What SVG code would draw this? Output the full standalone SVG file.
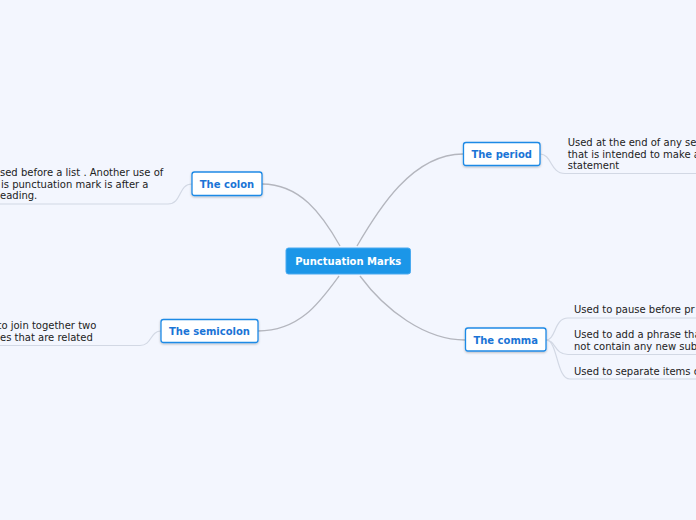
<svg xmlns="http://www.w3.org/2000/svg" width="696" height="520" viewBox="0 0 696 520">
<defs>
<style>
.bg{fill:#f3f6fe}
.main{fill:none;stroke:#b4b6be;stroke-width:1.3}
.sub{fill:none;stroke:#d2d8e4;stroke-width:1.2}
.node rect{fill:#ffffff;stroke:#1f8ae6;stroke-width:1.3}
.node text{font-family:"DejaVu Sans",Verdana,sans-serif;font-size:10px;font-weight:bold;fill:#1a74d6;text-anchor:middle}
.root rect{fill:#1b96e8;stroke:#4aaaf0;stroke-width:1}
.root text{font-family:"DejaVu Sans",Verdana,sans-serif;font-size:10px;font-weight:bold;fill:#ffffff;text-anchor:middle}
.leaf{font-family:"DejaVu Sans",Verdana,sans-serif;font-size:10px;fill:#222222}
</style>
<filter id="sh" x="-10%" y="-20%" width="120%" height="150%">
<feDropShadow dx="0" dy="1" stdDeviation="0.8" flood-color="#000000" flood-opacity="0.25"/>
</filter>
</defs>
<rect class="bg" x="0" y="0" width="696" height="520"/>
<g id="connectors">
<path class="main" d="M340,246 C322,214 300,184 262,184"/>
<path class="main" d="M357,246 C378,210 412,154 463,154"/>
<path class="main" d="M339,276 C320,302 300,331 258,331"/>
<path class="main" d="M360,276 C385,310 425,340 465,340"/>
<path class="sub" d="M192,184 C178,184 182,204 168,204 L0,204"/>
<path class="sub" d="M161,331 C150,331 152,345.5 140,345.5 L0,345.5"/>
<path class="sub" d="M540,154 C552,154 550,173.5 565,173.5 L696,173.5"/>
<path class="sub" d="M546,340 C556,340 554,318 568,318 L696,318"/>
<path class="sub" d="M546,340 C556,340 554,354.5 568,354.5 L696,354.5"/>
<path class="sub" d="M546,340 C558,340 556,379 570,379 L696,379"/>
</g>
<g id="root" class="root">
<rect x="286" y="248" width="124.5" height="26" rx="2.5"/>
<text x="348.3" y="264.5">Punctuation Marks</text>
</g>
<g id="colon" class="node">
<rect x="192" y="172" width="70" height="23.5" rx="2.5" filter="url(#sh)"/>
<text x="227" y="187.5">The colon</text>
</g>
<g id="semicolon" class="node">
<rect x="161" y="319.5" width="97" height="23" rx="2.5" filter="url(#sh)"/>
<text x="209.5" y="334.5">The semicolon</text>
</g>
<g id="period" class="node">
<rect x="463.5" y="142.5" width="76.5" height="23" rx="2.5" filter="url(#sh)"/>
<text x="501.7" y="157.5">The period</text>
</g>
<g id="comma" class="node">
<rect x="465.5" y="328" width="80.5" height="23" rx="2.5" filter="url(#sh)"/>
<text x="505.7" y="343.5">The comma</text>
</g>
<g id="colon-leaf">
<text class="leaf" x="0" y="176">sed before a list . Another use of</text>
<text class="leaf" x="1" y="187.6">is punctuation mark is after a</text>
<text class="leaf" x="0" y="199.2">eading.</text>
</g>
<g id="semicolon-leaf">
<text class="leaf" x="-2.5" y="329">to join together two</text>
<text class="leaf" x="0" y="340.7">es that are related</text>
</g>
<g id="period-leaf">
<text class="leaf" x="567.7" y="146">Used at the end of any se</text>
<text class="leaf" x="567.7" y="157.6">that is intended to make a</text>
<text class="leaf" x="567.7" y="169.2">statement</text>
</g>
<g id="comma-leaf-1">
<text class="leaf" x="574" y="313.3">Used to pause before pr</text>
</g>
<g id="comma-leaf-2">
<text class="leaf" x="574" y="338">Used to add a phrase tha</text>
<text class="leaf" x="574" y="349.6">not contain any new sub</text>
</g>
<g id="comma-leaf-3">
<text class="leaf" x="574" y="375">Used to separate items c</text>
</g>
</svg>
